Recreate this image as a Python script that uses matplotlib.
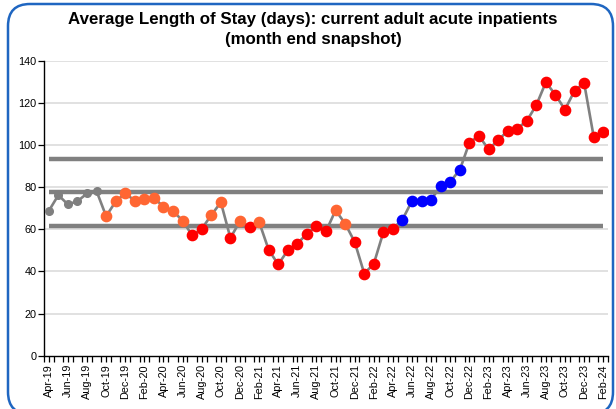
import matplotlib
matplotlib.use("Agg")
import matplotlib.pyplot as plt
from matplotlib.patches import FancyBboxPatch
from matplotlib.transforms import IdentityTransform

plt.rcParams['font.family'] = ['Liberation Sans', 'DejaVu Sans']

months = ["Apr-19", "May-19", "Jun-19", "Jul-19", "Aug-19", "Sep-19", "Oct-19", "Nov-19", "Dec-19",
          "Jan-20", "Feb-20", "Mar-20", "Apr-20", "May-20", "Jun-20", "Jul-20", "Aug-20", "Sep-20",
          "Oct-20", "Nov-20", "Dec-20", "Jan-21", "Feb-21", "Mar-21", "Apr-21", "May-21", "Jun-21",
          "Jul-21", "Aug-21", "Sep-21", "Oct-21", "Nov-21", "Dec-21", "Jan-22", "Feb-22", "Mar-22",
          "Apr-22", "May-22", "Jun-22", "Jul-22", "Aug-22", "Sep-22", "Oct-22", "Nov-22", "Dec-22",
          "Jan-23", "Feb-23", "Mar-23", "Apr-23", "May-23", "Jun-23", "Jul-23", "Aug-23", "Sep-23",
          "Oct-23", "Nov-23", "Dec-23", "Jan-24", "Feb-24"]

los = [68.7, 76.2, 71.8, 73.3, 77.0, 78.1, 66.2, 73.2, 77.1, 73.5, 74.4, 75.0, 70.6, 68.6, 64.1,
       57.1, 60.2, 66.7, 72.8, 55.9, 63.8, 61.1, 63.5, 50.3, 43.3, 50.0, 53.2, 57.8, 61.6, 59.0,
       69.0, 62.7, 54.0, 39.0, 43.6, 58.6, 60.2, 64.6, 73.5, 73.5, 74.1, 80.5, 82.6, 88.2, 101.1,
       104.4, 97.9, 102.2, 106.7, 107.8, 111.4, 118.9, 129.8, 123.8, 116.8, 125.7, 129.5, 104.0, 106.0]

# point status: b = baseline, o = orange, r = red, u = blue
status = ["b", "b", "b", "b", "b", "b", "o", "o", "o", "o", "o", "o", "o", "o", "o",
          "r", "r", "o", "o", "r", "o", "r", "o", "r", "r", "r", "r", "r", "r", "r",
          "o", "o", "r", "r", "r", "r", "r", "u", "u", "u", "u", "u", "u", "u", "r",
          "r", "r", "r", "r", "r", "r", "r", "r", "r", "r", "r", "r", "r", "r"]

mean_line = 77.6
upper_limit = 93.3
lower_limit = 61.5

yticks = [0, 20, 40, 60, 80, 100, 120, 140]

colors = {"b": "#7f7f7f", "o": "#ff6633", "r": "#ff0000", "u": "#0000ff"}
sizes = {"b": 5.5, "o": 7.4, "r": 7.4, "u": 7.4}

W, H = 616, 409
fig = plt.figure(figsize=(W / 100, H / 100), dpi=100)
ax = fig.add_axes([44 / W, 1 - 355.7 / H, (608 - 44) / W, (355.7 - 60.7) / H])

x = list(range(len(months)))

for yv in yticks[1:]:
    ax.axhline(yv, color="#d9d9d9", lw=1.1, zorder=0)

for lvl in (mean_line, upper_limit, lower_limit):
    ax.plot([x[0], x[-1]], [lvl, lvl], color="#808080", lw=3.2, zorder=1, solid_capstyle="butt")

ax.plot(x, los, color="#808080", lw=1.9, zorder=2)
for xi, yi, s in zip(x, los, status):
    ax.plot(xi, yi, marker="o", ms=sizes[s], color=colors[s], mec=colors[s], zorder=3, ls="none")

ax.set_xlim(-0.47, len(months) - 0.53)
ax.set_ylim(0, 140)
ax.set_yticks(yticks)
ax.set_yticklabels([str(v) for v in yticks])
ax.set_xticks(x[::2])
ax.set_xticklabels(months[::2], rotation=90)
ax.set_xticks([i + 0.5 for i in range(-1, len(months))], minor=True)

for side in ("top", "right"):
    ax.spines[side].set_visible(False)
for side in ("left", "bottom"):
    ax.spines[side].set_color("black")
    ax.spines[side].set_linewidth(1.0)

ax.tick_params(axis="y", length=4, width=0.9, pad=1.5, labelsize=7.8, colors="black")
ax.tick_params(axis="x", which="major", length=4, width=0.9, pad=2, labelsize=7.8, colors="black")
ax.tick_params(axis="x", which="minor", length=4, width=0.9)

fig.text(313 / W, 1 - 29.5 / H,
         "Average Length of Stay (days): current adult acute inpatients\n(month end snapshot)",
         ha="center", va="center", fontsize=12.2, fontweight="bold", linespacing=1.4)

border = FancyBboxPatch((8, -5), 605, 410, boxstyle="round,pad=0,rounding_size=22",
                        transform=IdentityTransform(), fill=False, edgecolor="#1f66c1", lw=1.8)
fig.add_artist(border)

fig.savefig("out.png", dpi=100)
